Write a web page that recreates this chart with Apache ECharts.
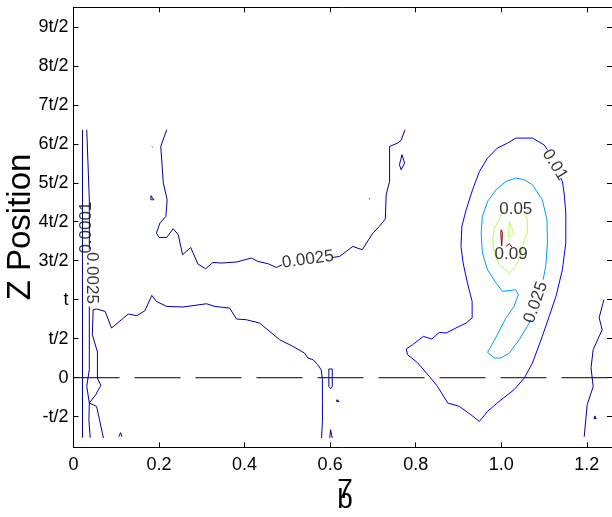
<!DOCTYPE html>
<html><head><meta charset="utf-8">
<script src="https://cdn.jsdelivr.net/npm/echarts@6/dist/echarts.min.js"></script>
<style>html,body{margin:0;padding:0;background:#fff}#c{width:612px;height:517px}</style>
</head><body><div id="c"></div>
<script>
// x: zeta*b ; y: Z position in units of t/2
const xTicks = [0, 0.2, 0.4, 0.6, 0.8, 1.0, 1.2];
const xTickLabels = ['0', '0.2', '0.4', '0.6', '0.8', '1.0', '1.2'];
const yTicks = [-1, 0, 1, 2, 3, 4, 5, 6, 7, 8, 9];
const yTickLabels = ['-t/2', '0', 't/2', 't', '3t/2', '4t/2', '5t/2', '6t/2', '7t/2', '8t/2', '9t/2'];
const xRange = [0, 1.259];
const yRange = [-1.785, 9.5];

// contour level 0.0001
const level0001 = [
  [[0.021, 6.36], [0.021, -1.54]]
];
// contour level 0.0025
const level0025 = [
  [[0.031, 6.36], [0.037, 4.56], [0.037, 3.3]],
  [[0.037, 1.83], [0.037, 0.21], [0.031, -0.22], [0.037, -0.65], [0.036, -1.08], [0.039, -1.54]],
  [[0.070, -1.546], [0.054, -0.736], [0.037, -0.649], [0.052, -0.436], [0.064, -0.197], [0.056, -0.008],
   [0.056, 0.659], [0.044, 1.103], [0.046, 1.744], [0.054, 1.762], [0.074, 1.700], [0.089, 1.274],
   [0.128, 1.633], [0.148, 1.590], [0.167, 1.718], [0.183, 2.110], [0.194, 1.956], [0.218, 1.828],
   [0.256, 1.813], [0.311, 1.897], [0.330, 1.828], [0.365, 1.787], [0.381, 1.505], [0.404, 1.487],
   [0.435, 1.403], [0.482, 0.974], [0.513, 0.803], [0.540, 0.633], [0.548, 0.505], [0.560, 0.462],
   [0.571, 0.333], [0.579, 0.205], [0.582, -0.051], [0.582, -0.608], [0.582, -1.121], [0.580, -1.546]],
  [[0.218, 6.359], [0.204, 5.931], [0.210, 4.992], [0.219, 4.564], [0.216, 4.136], [0.202, 3.967],
   [0.194, 3.710], [0.200, 3.597], [0.218, 3.597], [0.233, 3.821], [0.245, 3.667], [0.255, 3.154],
   [0.274, 3.341], [0.291, 2.915], [0.309, 2.795], [0.326, 2.956], [0.346, 2.941], [0.381, 2.967],
   [0.416, 3.069], [0.431, 2.982], [0.455, 2.923], [0.474, 2.828], [0.488, 2.897]],
  [[0.606, 3.085], [0.622, 3.110], [0.653, 3.367], [0.675, 3.282], [0.700, 3.710], [0.715, 3.879],
   [0.729, 4.069], [0.731, 4.692], [0.739, 5.033], [0.739, 5.931], [0.758, 6.018], [0.766, 6.085], [0.775, 6.359]],
  [[0.183, 5.93], [0.185, 5.91]],
  [[0.181, 4.667], [0.188, 4.564], [0.181, 4.564], [0.181, 4.667]],
  [[0.691, 4.60], [0.693, 4.58]],
  [[0.768, 5.718], [0.774, 5.505], [0.766, 5.333], [0.762, 5.462], [0.768, 5.718]],
  [[0.597, 0.223], [0.605, 0.223], [0.605, -0.223], [0.601, -0.282], [0.597, -0.223], [0.597, 0.223]],
  [[0.616, -0.564], [0.621, -0.608], [0.618, -0.654], [0.615, -0.608], [0.616, -0.564]],
  [[0.599, -1.546], [0.601, -1.333], [0.605, -1.546]],
  [[0.106, -1.513], [0.110, -1.410], [0.113, -1.513]],
  [[1.240, 2.0], [1.229, 1.538], [1.236, 1.231], [1.215, 0.718], [1.210, 0.256], [1.215, -0.231], [1.201, -0.692], [1.194, -1.513]],
  [[1.217, -1.05], [1.219, -0.98], [1.222, -1.05], [1.217, -1.05]]
];
// contour level 0.01
const level01 = [
  [[1.108, 5.846], [1.100, 5.974], [1.073, 6.146], [1.034, 6.146], [1.015, 6.018], [0.991, 5.890],
   [0.968, 5.633], [0.949, 5.290], [0.933, 4.821], [0.918, 4.308], [0.908, 3.879], [0.906, 3.367],
   [0.911, 2.941], [0.921, 2.428], [0.932, 1.956], [0.932, 1.531], [0.918, 1.403], [0.894, 1.274],
   [0.871, 1.146], [0.855, 1.162], [0.838, 0.992], [0.818, 1.059], [0.793, 0.846], [0.778, 0.736],
   [0.781, 0.590], [0.805, 0.377], [0.832, 0.033], [0.851, -0.223], [0.875, -0.649], [0.902, -0.736],
   [0.929, -0.949], [0.949, -1.121], [0.968, -0.864], [0.995, -0.608], [1.030, -0.308], [1.054, -0.008],
   [1.073, 0.377], [1.096, 1.059], [1.112, 1.572], [1.128, 2.085], [1.143, 2.769], [1.151, 3.454],
   [1.151, 4.223], [1.147, 4.736], [1.143, 5.033], [1.139, 5.121]]
];
// contour level 0.025
const level025 = [
  [[1.098, 2.513], [1.104, 2.854], [1.108, 3.454], [1.107, 4.051], [1.096, 4.564], [1.073, 4.949],
   [1.054, 5.077], [1.034, 5.121], [1.011, 5.033], [0.988, 4.821], [0.968, 4.521], [0.956, 4.136],
   [0.953, 3.710], [0.956, 3.197], [0.968, 2.769], [0.988, 2.428], [1.003, 2.213], [1.034, 2.256],
   [1.040, 2.128], [1.030, 1.828], [1.011, 1.531], [0.991, 1.103], [0.976, 0.803], [0.968, 0.649],
   [0.984, 0.505], [0.999, 0.505], [1.019, 0.633], [1.042, 0.974], [1.061, 1.315], [1.069, 1.487]]
];
// contour level 0.05
const level05 = [
  [[1.003, 4.264], [0.995, 4.051], [0.984, 3.838], [0.980, 3.538], [0.984, 3.197], [0.995, 2.897],
   [1.019, 2.685], [1.030, 2.813], [1.040, 2.982], [1.054, 3.538], [1.061, 3.710], [1.061, 4.051], [1.058, 4.154]],
  [[1.019, 4.008], [1.030, 3.692], [1.017, 3.597], [1.019, 4.008]]
];
// contour level 0.09
const level09 = [
  [[1.000, 3.795], [1.003, 3.72], [1.001, 3.385], [0.998, 3.40], [0.999, 3.70], [1.000, 3.795]],
  [[1.011, 3.367], [1.019, 3.436], [1.025, 3.351]]
];
// inline contour labels: [x, y, text, rotation]
const contourLabels = [
  [0.548, 3.03, '0.0025', 8],
  [1.125, 5.46, '0.01', -58],
  [1.034, 4.33, '0.05', 0],
  [1.023, 3.17, '0.09', 0],
  [1.081, 1.93, '0.025', 71],
  [0.030, 3.85, '0.0001', 90],
  [0.043, 2.56, '0.0025', -90]
];
const zeroLine = [[0, 0], [1.259, 0]];

const levelStyles = [
  {data: level0001, color: '#000080'},
  {data: level0025, color: '#00009c'},
  {data: level01, color: '#0000f0'},
  {data: level025, color: '#009cff'},
  {data: level05, color: '#b3ff4d'},
  {data: level09, color: '#800000'}
];

const font = 'Liberation Sans, Arial, sans-serif';
const series = [];
levelStyles.forEach(l => {
  l.data.forEach(poly => {
    series.push({type: 'line', data: poly, showSymbol: false, symbol: 'none',
      lineStyle: {color: l.color, width: 1}, silent: true, animation: false, z: 3});
  });
});
series.push({type: 'line', data: zeroLine, showSymbol: false, symbol: 'none',
  lineStyle: {color: '#000', width: 1, type: [46, 15]}, animation: false, z: 2});
series.push({type: 'scatter', symbolSize: 0, animation: false, z: 5,
  data: contourLabels.map(d => ({value: [d[0], d[1]], name: d[2],
    label: {show: true, position: 'inside', formatter: d[2], rotate: d[3],
      fontSize: 17, color: '#000', fontFamily: font}}))
});

const baseAxisLine = {show: true, onZero: false, lineStyle: {color: '#000', width: 1}};
const option = {
  animation: false,
  backgroundColor: '#fff',
  grid: {left: 73.5, right: -1, top: 7.3, bottom: 69.7, containLabel: false},
  xAxis: [
    {type: 'value', min: xRange[0], max: xRange[1], position: 'bottom',
      axisLine: baseAxisLine,
      axisTick: {show: true, inside: true, length: 5, customValues: xTicks, lineStyle: {color: '#000'}},
      axisLabel: {show: true, customValues: xTicks, margin: 9, fontSize: 18, color: '#000', fontFamily: font,
        formatter: v => xTickLabels[xTicks.findIndex(t => Math.abs(t - v) < 1e-6)]},
      splitLine: {show: false}},
    {type: 'value', min: xRange[0], max: xRange[1], position: 'top',
      axisLine: baseAxisLine,
      axisTick: {show: true, inside: true, length: 5, customValues: xTicks, lineStyle: {color: '#000'}},
      axisLabel: {show: false}, splitLine: {show: false}}
  ],
  yAxis: [
    {type: 'value', min: yRange[0], max: yRange[1], position: 'left',
      axisLine: baseAxisLine,
      axisTick: {show: true, inside: true, length: 5, customValues: yTicks, lineStyle: {color: '#000'}},
      axisLabel: {show: true, customValues: yTicks, margin: 5, fontSize: 18, color: '#000', fontFamily: font,
        formatter: v => yTickLabels[yTicks.findIndex(t => Math.abs(t - v) < 1e-6)]},
      splitLine: {show: false}},
    {type: 'value', min: yRange[0], max: yRange[1], position: 'right',
      axisLine: baseAxisLine,
      axisTick: {show: true, inside: true, length: 5, customValues: yTicks, lineStyle: {color: '#000'}},
      axisLabel: {show: false}, splitLine: {show: false}}
  ],
  graphic: [
    {type: 'text', x: 21, y: 227, rotation: Math.PI / 2,
      style: {text: 'Z Position', font: '33px ' + font, fill: '#000', textAlign: 'center', textVerticalAlign: 'middle'}},
    {type: 'text', x: 345, y: 490, style: {text: '7', font: '28px ' + font, fill: '#000', textAlign: 'center', textVerticalAlign: 'middle'}},
    {type: 'text', x: 345, y: 500, style: {text: 'b', font: '28px ' + font, fill: '#000', textAlign: 'center', textVerticalAlign: 'middle'}}
  ],
  series: series
};
const chart = echarts.init(document.getElementById('c'), null, {renderer: 'canvas'});
chart.setOption(option);
</script>
</body></html>
